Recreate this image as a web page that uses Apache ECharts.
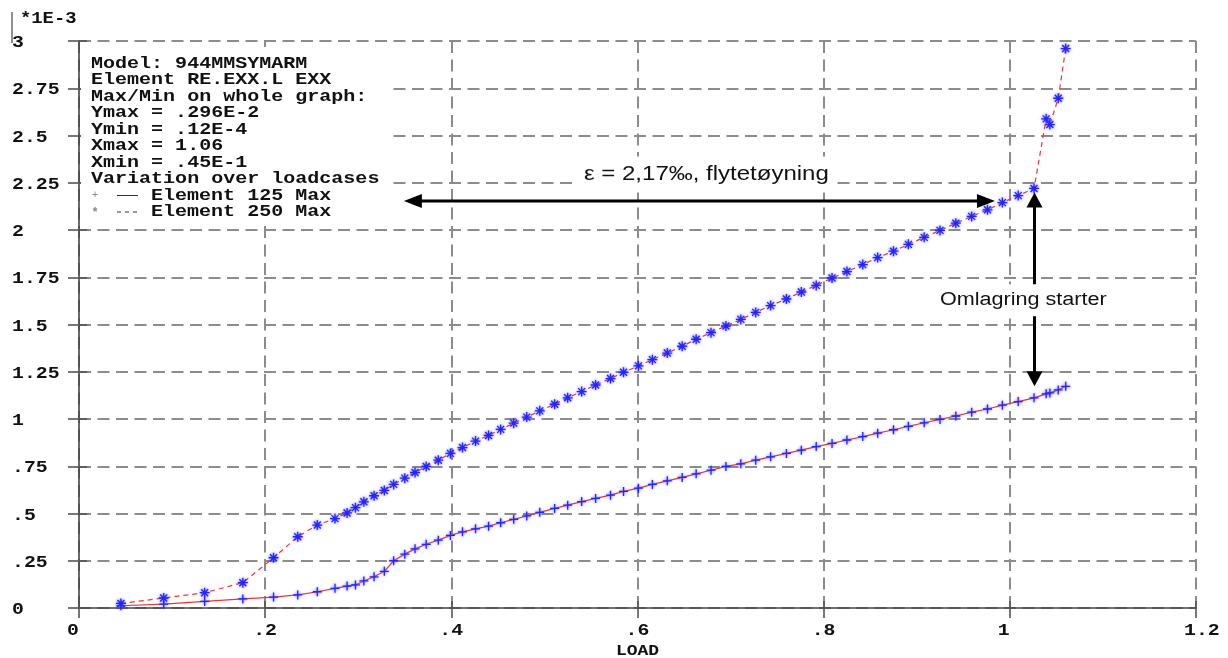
<!DOCTYPE html>
<html>
<head>
<meta charset="utf-8">
<script src="https://cdn.jsdelivr.net/npm/echarts@6/dist/echarts.min.js"></script>
<style>
  html, body { margin: 0; padding: 0; background: #fff; }
  #main { width: 1228px; height: 658px; }
</style>
</head>
<body>
<div id="main"></div>
<script>
// Load steps (shared by both elements)
const load = [
  0.045, 0.091, 0.135, 0.176, 0.209, 0.235, 0.256, 0.275, 0.288, 0.297,
  0.306, 0.317, 0.328, 0.338, 0.350, 0.361, 0.373, 0.386, 0.399, 0.412,
  0.426, 0.440, 0.453, 0.467, 0.481, 0.495, 0.511, 0.525, 0.540, 0.555,
  0.571, 0.585, 0.601, 0.616, 0.632, 0.648, 0.663, 0.679, 0.695, 0.711,
  0.727, 0.743, 0.760, 0.776, 0.792, 0.809, 0.825, 0.842, 0.858, 0.875,
  0.891, 0.908, 0.925, 0.942, 0.959, 0.976, 0.992, 1.009, 1.026, 1.039,
  1.043, 1.052, 1.060
];
// EXX strain, Element 125 Max (units of 1E-3)
const el125 = [
  0.012, 0.021, 0.035, 0.048, 0.058, 0.069, 0.086, 0.104, 0.116, 0.122,
  0.143, 0.165, 0.194, 0.250, 0.285, 0.313, 0.337, 0.359, 0.384, 0.403,
  0.419, 0.433, 0.451, 0.469, 0.487, 0.506, 0.527, 0.544, 0.563, 0.580,
  0.597, 0.617, 0.634, 0.654, 0.673, 0.691, 0.710, 0.729, 0.749, 0.763,
  0.782, 0.800, 0.818, 0.835, 0.854, 0.871, 0.889, 0.907, 0.925, 0.943,
  0.961, 0.980, 0.998, 1.016, 1.036, 1.053, 1.073, 1.092, 1.112, 1.133,
  1.138, 1.154, 1.173
];
// EXX strain, Element 250 Max (units of 1E-3)
const el250 = [
  0.024, 0.053, 0.081, 0.134, 0.266, 0.377, 0.439, 0.473, 0.503, 0.531,
  0.562, 0.594, 0.622, 0.654, 0.687, 0.717, 0.749, 0.782, 0.818, 0.849,
  0.883, 0.913, 0.945, 0.978, 1.010, 1.043, 1.078, 1.112, 1.145, 1.180,
  1.214, 1.247, 1.281, 1.314, 1.349, 1.385, 1.422, 1.457, 1.492, 1.527,
  1.564, 1.600, 1.635, 1.672, 1.707, 1.746, 1.780, 1.817, 1.854, 1.888,
  1.924, 1.961, 1.998, 2.036, 2.072, 2.107, 2.145, 2.182, 2.220, 2.588,
  2.558, 2.697, 2.960
];

const yTicks = [0, 0.25, 0.5, 0.75, 1, 1.25, 1.5, 1.75, 2, 2.25, 2.5, 2.75, 3];
const yTickLabels = ['0', '.25', '.5', '.75', '1', '1.25', '1.5', '1.75', '2', '2.25', '2.5', '2.75', '3'];
const xTicks = [0, 0.2, 0.4, 0.6, 0.8, 1, 1.2];
const xTickLabels = ['0', '.2', '.4', '.6', '.8', '1', '1.2'];

const infoLines = [
  'Model: 944MMSYMARM',
  'Element RE.EXX.L EXX',
  'Max/Min on whole graph:',
  'Ymax = .296E-2',
  'Ymin = .12E-4',
  'Xmax = 1.06',
  'Xmin = .45E-1',
  'Variation over loadcases'
];
const seriesNames = ['Element 125 Max', 'Element 250 Max'];

// Annotation anchors in data units (load, strain*1E-3)
const yieldArrow = { y: 2.153, x1: 0.349, x2: 0.984 };
const yieldText = { x: 0.674, y: 2.294, text: 'ε = 2,17‰, flytetøyning' };
const redistArrow = { x: 1.0265, y1: 2.199, y2: 1.173 };
const redistText = { x: 1.0145, y: 1.628, text: 'Omlagring starter' };

const MONO = '"Liberation Mono", "DejaVu Sans Mono", monospace';
const SANS = '"Liberation Sans", Arial, sans-serif';
const STRETCH = 1.2;

const PLUS = 'path://M5,0L5,10M0,5L10,5';
const STAR = 'path://M5,0L5,10M0,5L10,5M1.5,1.5L8.5,8.5M8.5,1.5L1.5,8.5';

const chart = echarts.init(document.getElementById('main'), null, { renderer: 'canvas' });

const gridDash = { color: '#8c8c8c', width: 2, type: [12, 6.5] };
const axisCommon = { min: 0, max: 0, interval: 0 };

const markerStyle = {
  color: '#2424ff',
  borderColor: '#2424ff',
  borderWidth: 1.3,
  shadowBlur: 3,
  shadowColor: 'rgba(80,80,255,0.9)'
};

chart.setOption({
  animation: false,
  backgroundColor: '#ffffff',
  grid: { left: 79, right: 32, top: 41, bottom: 50, containLabel: false },
  xAxis: [
    {
      type: 'value', min: 0, max: 1.2, interval: 0.2,
      axisLine: { show: true, onZero: false, lineStyle: { color: '#444', width: 1.6 } },
      axisTick: { show: true, inside: false, length: 10, lineStyle: { color: '#555', width: 1.6 } },
      axisLabel: { show: false },
      splitLine: { show: true, lineStyle: gridDash }
    },
    {
      type: 'value', min: 0, max: 1.2, interval: 0.2, position: 'bottom',
      axisLine: { show: false, onZero: false },
      axisTick: { show: true, inside: true, length: 7, lineStyle: { color: '#555', width: 1.6 } },
      axisLabel: { show: false },
      splitLine: { show: false }
    }
  ],
  yAxis: [
    {
      type: 'value', min: 0, max: 3, interval: 0.25,
      axisLine: { show: true, onZero: false, lineStyle: { color: '#444', width: 1.6 } },
      axisTick: { show: true, inside: false, length: 11, lineStyle: { color: '#555', width: 1.6 } },
      axisLabel: { show: false },
      splitLine: { show: true, lineStyle: gridDash }
    },
    {
      type: 'value', min: 0, max: 3, interval: 0.25, position: 'left',
      axisLine: { show: false, onZero: false },
      axisTick: { show: true, inside: true, length: 8, lineStyle: { color: '#555', width: 1.6 } },
      axisLabel: { show: false },
      splitLine: { show: false }
    }
  ],
  series: [
    {
      name: seriesNames[0],
      type: 'line',
      xAxisIndex: 0, yAxisIndex: 0,
      data: load.map((x, i) => [x, el125[i]]),
      symbol: PLUS,
      symbolSize: 9,
      showAllSymbol: true,
      lineStyle: { color: '#ee3434', width: 1.2, type: 'solid' },
      itemStyle: markerStyle,
      z: 3
    },
    {
      name: seriesNames[1],
      type: 'line',
      xAxisIndex: 0, yAxisIndex: 0,
      data: load.map((x, i) => [x, el250[i]]),
      symbol: STAR,
      symbolSize: 10,
      showAllSymbol: true,
      lineStyle: { color: '#ee3434', width: 1.2, type: [5, 4] },
      itemStyle: markerStyle,
      z: 3
    }
  ]
});

// Pixel helper through the chart's own scales
const P = (x, y) => chart.convertToPixel({ xAxisIndex: 0, yAxisIndex: 0 }, [x, y]);

const g = [];

function monoText(str, x, y, size, opts) {
  opts = opts || {};
  return {
    type: 'text', x: x, y: y, scaleX: STRETCH, z: 20,
    style: {
      text: str,
      font: 'bold ' + size + 'px ' + MONO,
      fill: opts.fill || '#111',
      align: opts.align || 'left',
      verticalAlign: 'middle'
    }
  };
}

// Y tick labels
yTicks.forEach((v, i) => {
  const p = P(0, v);
  g.push(monoText(yTickLabels[i], 12, p[1] + 2, 16.5));
});
// X tick labels: each label starts one character cell left of its tick
xTicks.forEach((v, i) => {
  const p = P(v, 0);
  g.push(monoText(xTickLabels[i], p[0] - 12, 631, 16.5));
});
// Axis title and exponent
const xMid = (P(0, 0)[0] + P(1.2, 0)[0]) / 2;
g.push({
  type: 'text', x: xMid, y: 651, scaleX: STRETCH, z: 20,
  style: { text: 'LOAD', font: 'bold 15px ' + MONO, fill: '#111', align: 'center', verticalAlign: 'middle' }
});
g.push(monoText('*1E-3', 20, 19, 15.7));
g.push({ type: 'line', z: 20, shape: { x1: 12, y1: 12, x2: 12, y2: 43 }, style: { stroke: '#555', lineWidth: 1.3 } });

// Info block with white backing over the grid
g.push({ type: 'rect', z: 15, shape: { x: 81, y: 47, width: 308, height: 175 }, style: { fill: '#fff' } });
infoLines.forEach((t, i) => {
  g.push(monoText(t, 91, 63.5 + 16.5 * i, 16.7));
});
const legY1 = 63.5 + 16.5 * 8;
const legY2 = 63.5 + 16.5 * 9;
g.push(monoText(seriesNames[0], 151, legY1, 16.7));
g.push(monoText(seriesNames[1], 151, legY2, 16.7));
g.push({ type: 'text', x: 95, y: legY1, z: 20, style: { text: '+', font: '11px ' + MONO, fill: '#888', align: 'center', verticalAlign: 'middle' } });
g.push({ type: 'text', x: 95, y: legY2 + 1, z: 20, style: { text: '*', font: 'bold 12px ' + MONO, fill: '#888', align: 'center', verticalAlign: 'middle' } });
g.push({ type: 'line', z: 20, shape: { x1: 117, y1: legY1, x2: 138, y2: legY1 }, style: { stroke: '#333', lineWidth: 1 } });
g.push({ type: 'line', z: 20, shape: { x1: 117, y1: legY2, x2: 138, y2: legY2 }, style: { stroke: '#333', lineWidth: 1, lineDash: [4, 4] } });

// Horizontal double-headed arrow
(function () {
  const a = P(yieldArrow.x1, yieldArrow.y);
  const b = P(yieldArrow.x2, yieldArrow.y);
  const hl = 18, hw = 7;
  g.push({ type: 'line', z: 20, shape: { x1: a[0] + hl - 2, y1: a[1], x2: b[0] - hl + 2, y2: b[1] }, style: { stroke: '#000', lineWidth: 3 } });
  g.push({ type: 'polygon', z: 20, shape: { points: [[a[0], a[1]], [a[0] + hl, a[1] - hw], [a[0] + hl, a[1] + hw]] }, style: { fill: '#000' } });
  g.push({ type: 'polygon', z: 20, shape: { points: [[b[0], b[1]], [b[0] - hl, b[1] - hw], [b[0] - hl, b[1] + hw]] }, style: { fill: '#000' } });
})();

// Vertical double-headed arrow
(function () {
  const a = P(redistArrow.x, redistArrow.y1);
  const b = P(redistArrow.x, redistArrow.y2);
  const hl = 15, hw = 8;
  g.push({ type: 'line', z: 20, shape: { x1: a[0], y1: a[1] + hl - 2, x2: b[0], y2: b[1] - hl + 2 }, style: { stroke: '#000', lineWidth: 3 } });
  g.push({ type: 'polygon', z: 20, shape: { points: [[a[0], a[1]], [a[0] - hw, a[1] + hl], [a[0] + hw, a[1] + hl]] }, style: { fill: '#000' } });
  g.push({ type: 'polygon', z: 20, shape: { points: [[b[0], b[1]], [b[0] - hw, b[1] - hl], [b[0] + hw, b[1] - hl]] }, style: { fill: '#000' } });
})();

// Annotation labels on white boxes
(function () {
  const p = P(yieldText.x, yieldText.y);
  g.push({
    type: 'text', x: p[0], y: p[1], scaleX: STRETCH, z: 25,
    style: {
      text: yieldText.text, font: '20px ' + SANS, fill: '#111',
      align: 'center', verticalAlign: 'middle',
      backgroundColor: '#fff', padding: [8, 7, 8, 7]
    }
  });
  const q = P(redistText.x, redistText.y);
  g.push({
    type: 'text', x: q[0], y: q[1], scaleX: STRETCH, z: 25,
    style: {
      text: redistText.text, font: '18px ' + SANS, fill: '#111',
      align: 'center', verticalAlign: 'middle',
      backgroundColor: '#fff', padding: [7, 4, 7, 4]
    }
  });
})();

chart.setOption({ graphic: { elements: g } });
</script>
</body>
</html>
